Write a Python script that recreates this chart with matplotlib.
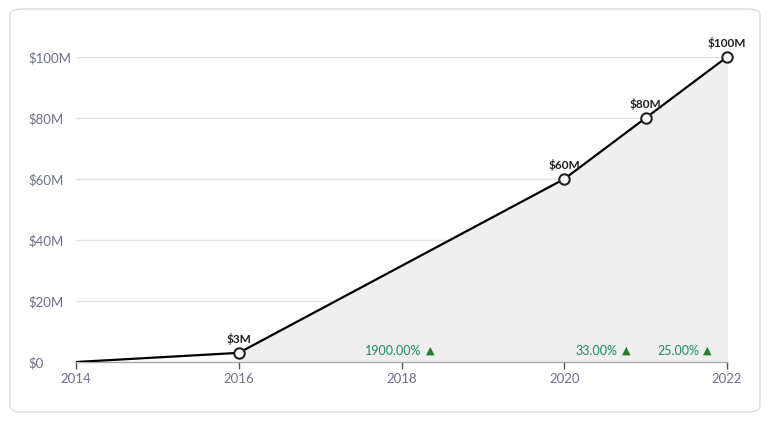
import numpy as np
import matplotlib.pyplot as plt
from matplotlib.patches import FancyBboxPatch

plt.rcParams['font.family'] = ['Lato', 'DejaVu Sans']

# data
years = [2014, 2016, 2020, 2021, 2022]
values = [0, 3, 60, 80, 100]
value_labels = ['', '$3M', '$60M', '$80M', '$100M']
growth_x = [2018, 2020.5, 2021.5]
growth_labels = ['1900.00%', '33.00%', '25.00%']
yticks = [0, 20, 40, 60, 80, 100]
ytick_labels = ['$0', '$20M', '$40M', '$60M', '$80M', '$100M']
xticks = [2014, 2016, 2018, 2020, 2022]

fig = plt.figure(figsize=(7.69, 4.21), dpi=100)

# card background
card = FancyBboxPatch((10 / 769, 9 / 421), 750 / 769, 403 / 421,
                      boxstyle="round,pad=0,rounding_size=0.015",
                      transform=fig.transFigure, facecolor='white',
                      edgecolor='#dcdcdc', linewidth=1, zorder=-10)
fig.patches.append(card)

ax = fig.add_axes([76 / 769, 1 - 362 / 421, (727 - 76) / 769, (362 - 57) / 421])
ax.set_facecolor('none')

# shaded area from 2016 onwards
ax.fill_between(years[1:], values[1:], 0, color='#efefef', zorder=1)
ax.plot(years, values, color='black', lw=1.6, zorder=3)
ax.plot(years[1:], values[1:], 'o', ms=7.5, mfc='white', mec='#222222', mew=1.5,
        zorder=4, clip_on=False)

for x, v, lab in zip(years, values, value_labels):
    if lab:
        ax.annotate(lab, (x, v), xytext=(0, 6), textcoords='offset points',
                    ha='center', va='bottom', fontsize=8.5, fontweight='bold',
                    color='#1f1f1f', annotation_clip=False)

# growth labels, centred on the middle of each segment
for x, lab in zip(growth_x, growth_labels):
    t = ax.annotate(lab, (x, 1.8), xytext=(-6, 0), textcoords='offset points',
                    ha='center', va='bottom', fontsize=9, color='#1a8a6a')
    ax.annotate('\u25B2', xy=(1, 0), xycoords=t, xytext=(3, 0.5),
                textcoords='offset points', ha='left', va='bottom',
                fontsize=8, color='#1e7d32')

ax.set_xlim(2014, 2022)
ax.set_ylim(0, 100)
ax.set_yticks(yticks)
ax.set_yticklabels(ytick_labels)
ax.set_xticks(xticks)
ax.grid(axis='y', color='#e3e3e3', lw=1)
ax.set_axisbelow(True)

for s in ['top', 'right', 'left']:
    ax.spines[s].set_visible(False)
ax.spines['bottom'].set_color('#aaaaaa')
ax.spines['bottom'].set_linewidth(1)

ax.tick_params(axis='y', length=0, pad=34, labelsize=9.5, labelcolor='#6e7187')
ax.tick_params(axis='x', length=5, width=1, color='#555555', pad=3,
               labelsize=9.5, labelcolor='#6e7187')
for lab in ax.get_yticklabels():
    lab.set_horizontalalignment('left')

fig.savefig('out.png', dpi=100)
